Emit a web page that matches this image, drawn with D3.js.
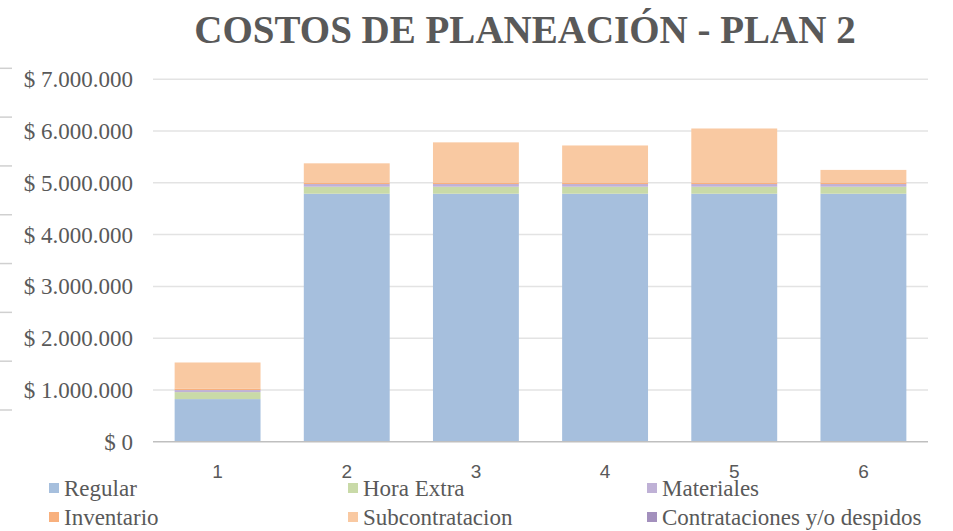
<!DOCTYPE html>
<html>
<head>
<meta charset="utf-8">
<script src="https://cdn.jsdelivr.net/npm/d3@7/dist/d3.min.js"></script>
<style>
  html, body { margin: 0; padding: 0; background: #fff; }
  svg { display: block; }
  .serif { font-family: "Times New Roman", "Liberation Serif", Tinos, serif; }
</style>
</head>
<body>
<svg id="chart" width="953" height="531"></svg>
<script>
const categories = ["1", "2", "3", "4", "5", "6"];
const seriesNames = ["Regular", "Hora Extra", "Materiales", "Inventario", "Subcontratacion", "Contrataciones y/o despidos"];
const regular        = [823000, 4790000, 4790000, 4790000, 4790000, 4790000];
const horaExtra      = [135000, 135000, 135000, 135000, 135000, 135000];
const materiales     = [40000, 52000, 52000, 52000, 52000, 52000];
const inventario     = [30000, 30000, 30000, 30000, 30000, 30000];
const subcontratacion= [502000, 370000, 775000, 715000, 1043000, 243000];
const contrataciones = [0, 0, 0, 0, 0, 0];
const yTicks = [0, 1000000, 2000000, 3000000, 4000000, 5000000, 6000000, 7000000];
const colors = ["#a6bfdd", "#c9daa8", "#bfb1d6", "#f8b07d", "#f9c9a2", "#a390bd"];
const title = "COSTOS DE PLANEACIÓN - PLAN 2";

const seriesValues = [regular, horaExtra, materiales, inventario, subcontratacion, contrataciones];
const rows = categories.map((c, i) => {
  const r = { cat: c };
  seriesNames.forEach((s, k) => r[s] = seriesValues[k][i]);
  return r;
});

const svg = d3.select("#chart");
const plotL = 153, plotR = 928, plotT = 79.3, plotB = 441.7;

const x = d3.scaleBand().domain(categories).range([plotL, plotR]).paddingInner(0.335).paddingOuter(0.1675);
const y = d3.scaleLinear().domain([0, 7000000]).range([plotB, plotT]);

// left edge artifact marks
const artifactY = d3.scaleLinear().domain([0, 7]).range([68.3, 410]);
svg.append("g").selectAll("line").data(d3.range(8)).join("line")
  .attr("x1", 0).attr("x2", 12)
  .attr("y1", d => artifactY(d)).attr("y2", d => artifactY(d))
  .attr("stroke", "#d0d0d0").attr("stroke-width", 1.5);

// gridlines
svg.append("g").selectAll("line").data(yTicks.filter(t => t > 0)).join("line")
  .attr("x1", plotL).attr("x2", plotR)
  .attr("y1", d => y(d)).attr("y2", d => y(d))
  .attr("stroke", "#e3e3e3").attr("stroke-width", 1.5);

// title
svg.append("text")
  .attr("class", "serif")
  .attr("x", 525).attr("y", 43)
  .attr("text-anchor", "middle")
  .attr("font-weight", "bold")
  .attr("font-size", 39)
  .attr("fill", "#595959")
  .text(title);

// y axis labels
const fmt = v => "$ " + d3.format(",")(v).replace(/,/g, ".");
svg.append("g").selectAll("text").data(yTicks).join("text")
  .attr("class", "serif")
  .attr("x", 133).attr("y", d => y(d))
  .attr("dy", "0.35em")
  .attr("text-anchor", "end")
  .attr("font-size", 23)
  .attr("fill", "#595959")
  .text(fmt);

// stacked bars
const stack = d3.stack().keys(seriesNames);
const stacked = stack(rows);
svg.append("g").selectAll("g").data(stacked).join("g")
  .attr("fill", (d, i) => colors[i])
  .selectAll("rect").data(d => d).join("rect")
  .attr("x", d => x(d.data.cat))
  .attr("width", x.bandwidth())
  .attr("y", d => y(d[1]))
  .attr("height", d => Math.max(0, y(d[0]) - y(d[1])));

// x axis line
svg.append("line")
  .attr("x1", plotL).attr("x2", plotR)
  .attr("y1", plotB).attr("y2", plotB)
  .attr("stroke", "#bfbfbf").attr("stroke-width", 1.5);

// x labels
svg.append("g").selectAll("text").data(categories).join("text")
  .attr("x", d => x(d) + x.bandwidth() / 2)
  .attr("y", 478)
  .attr("text-anchor", "middle")
  .attr("font-family", "'Liberation Sans Narrow', 'Liberation Sans', sans-serif")
  .attr("font-size", 19)
  .attr("fill", "#595959")
  .text(d => d);

// legend
const legX = [49, 348, 647];
const legY = [488, 517];
const leg = svg.append("g").selectAll("g").data(seriesNames).join("g")
  .attr("transform", (d, i) => `translate(${legX[i % 3]},${legY[Math.floor(i / 3)]})`);
leg.append("rect").attr("x", 0).attr("y", -5).attr("width", 10).attr("height", 10)
  .attr("fill", (d, i) => colors[i]);
leg.append("text").attr("class", "serif").attr("x", 15).attr("y", 0).attr("dy", "0.35em")
  .attr("font-size", 23)
  .attr("fill", "#595959")
  .text(d => d);
</script>
</body>
</html>
